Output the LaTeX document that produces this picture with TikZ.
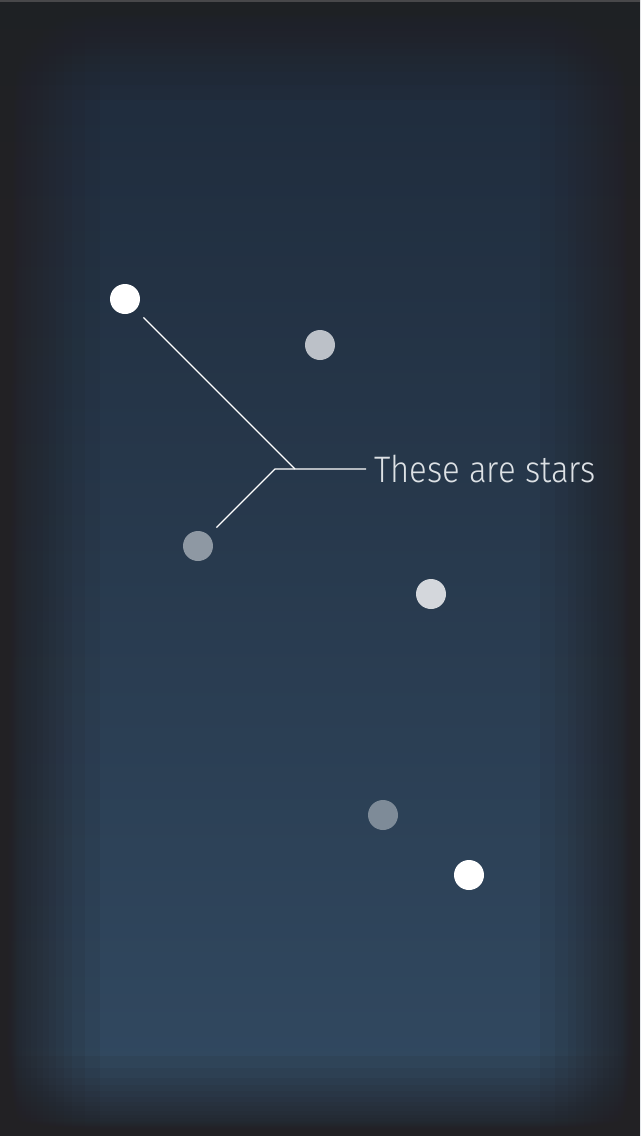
\documentclass[tikz,border=0pt]{standalone}
\usepackage{fontspec}
\IfFontExistsTF{Fira Sans UltraLight}
  {\newfontfamily\thinfont{Fira Sans UltraLight}}
  {\IfFontExistsTF{Fira Sans Light}
    {\newfontfamily\thinfont{Fira Sans Light}}
    {\newfontfamily\thinfont{Fira Sans}}}
\definecolor{skytop}{HTML}{1E2A3A}
\definecolor{skymid}{HTML}{283B50}
\definecolor{skybot}{HTML}{324A62}
\definecolor{rim}{HTML}{222124}
\definecolor{topline}{HTML}{48484A}
\definecolor{starA}{HTML}{BCC1C8}
\definecolor{starB}{HTML}{8E98A3}
\definecolor{starC}{HTML}{D4D7DC}
\definecolor{starD}{HTML}{7E8B98}
\definecolor{caption}{HTML}{DDE1E5}
\tikzset{
  spot/.style={circle, fill=#1, minimum size=0.6cm, inner sep=0pt, outer sep=0.22cm},
  pointer/.style={draw=white, line width=0.7pt},
  shadow strip/.style={fill=rim, opacity=0.1},
}

\begin{document}
\begin{tikzpicture}[x=0.02cm, y=-0.02cm]
     \useasboundingbox (0,0) rectangle (640,1136);
     % sky with dark rim
     \fill[top color=skytop, middle color=skymid, bottom color=skybot] (0,0) rectangle (640,1136);
     \foreach \w in {2,3,4,5,6,7,8,9,10,11,12,13,14,15,16,17,19,22,26,31,37,43,49,56,64,72,85,100} {
       \path[shadow strip] (0,0) rectangle (\w,1136);
       \path[shadow strip] (640-\w,0) rectangle (640,1136);
       \path[shadow strip] (0,0) rectangle (640,\w);
       \path[shadow strip] (0,1136-0.8*\w) rectangle (640,1136);
     }
     \fill[topline] (0,0) rectangle (640,2);

     \node[spot=white] (s1) at (125,299) {};
     \node[spot=starA] (s2) at (320,345) {};
     \node[spot=starB] (s3) at (198,546) {};
     \node[spot=starC] (s4) at (431,594) {};
     \node[spot=starD] (s5) at (383,815) {};
     \node[spot=white] (s6) at (469,875) {};

     \coordinate (fork) at (295,469);
     \coordinate (knee) at (275,469);
     \node[anchor=west, inner sep=0pt, text=caption] (label) at (374,469)
       {\scalebox{0.89}[1]{\thinfont\fontsize{21pt}{21pt}\selectfont These are stars}};

     \draw[pointer] (s1.south east) -- (fork);
     \draw[pointer] (s3.north east) -- (knee) -- ([xshift=-0.16cm]label.west);
   \end{tikzpicture}
\end{document}
